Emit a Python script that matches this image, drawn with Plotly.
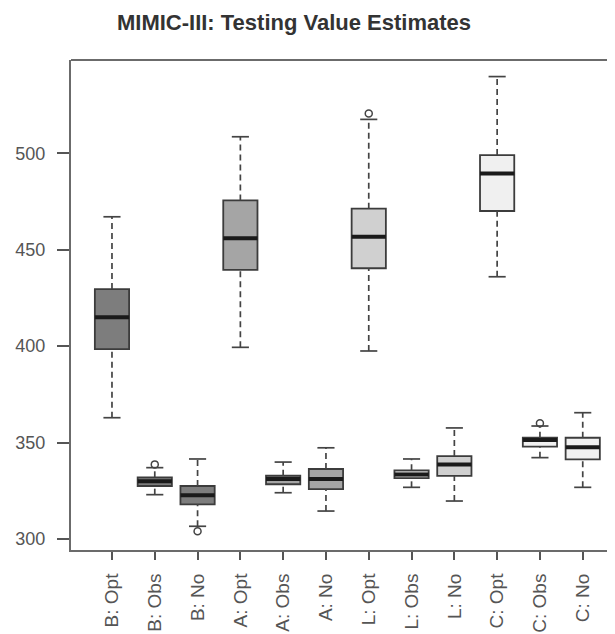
import plotly.graph_objects as go

labels = ["B: Opt", "B: Obs", "B: No", "A: Opt", "A: Obs", "A: No",
          "L: Opt", "L: Obs", "L: No", "C: Opt", "C: Obs", "C: No"]
lower_whisker = [362.9, 323.0, 306.6, 399.4, 324.0, 314.5, 397.5, 326.8, 319.7, 436.0, 342.2, 326.8]
q1 =            [398.5, 327.5, 318.0, 439.6, 328.4, 325.9, 440.4, 331.6, 332.7, 470.1, 347.9, 341.3]
median =        [415.0, 329.9, 322.7, 455.9, 331.1, 331.1, 456.8, 333.5, 338.7, 489.6, 351.3, 347.6]
q3 =            [429.6, 332.0, 327.5, 475.6, 332.8, 336.3, 471.3, 335.6, 343.0, 499.1, 352.5, 352.5]
upper_whisker = [467.1, 337.0, 341.5, 508.6, 339.9, 347.3, 517.6, 341.5, 357.6, 539.8, 358.6, 365.5]
outlier_pos = [2, 3, 7, 11]
outlier_val = [338.7, 304.0, 520.7, 360.0]
fills = ["#7d7d7d", "#7d7d7d", "#7d7d7d", "#a5a5a5", "#a5a5a5", "#a5a5a5",
         "#d0d0d0", "#d0d0d0", "#d0d0d0", "#f0f0f0", "#f0f0f0", "#f0f0f0"]
y_ticks = [300, 350, 400, 450, 500]

BOXW = 0.8
CAPW = 0.2
EDGE = "#3c3c3c"
FONT = "Liberation Sans, Arial, sans-serif"

fig = go.Figure()
positions = list(range(1, len(labels) + 1))

for i, pos in enumerate(positions):
    # dashed whiskers
    fig.add_trace(go.Scatter(
        x=[pos, pos, None, pos, pos],
        y=[lower_whisker[i], q1[i], None, q3[i], upper_whisker[i]],
        mode="lines", line=dict(color="#444444", width=1.7, dash="6px,4px"),
        hoverinfo="skip", showlegend=False))
    # caps
    fig.add_trace(go.Scatter(
        x=[pos - CAPW, pos + CAPW, None, pos - CAPW, pos + CAPW],
        y=[lower_whisker[i], lower_whisker[i], None, upper_whisker[i], upper_whisker[i]],
        mode="lines", line=dict(color="#444444", width=1.7),
        hoverinfo="skip", showlegend=False))
    # box body
    fig.add_trace(go.Box(
        x=[pos], q1=[q1[i]], median=[median[i]], q3=[q3[i]],
        lowerfence=[q1[i]], upperfence=[q3[i]],
        width=BOXW, whiskerwidth=0, fillcolor=fills[i],
        line=dict(color=EDGE, width=1.8), boxpoints=False,
        hoverinfo="skip", showlegend=False))
    # thick median
    fig.add_trace(go.Scatter(
        x=[pos - BOXW / 2, pos + BOXW / 2], y=[median[i], median[i]],
        mode="lines", line=dict(color="#1a1a1a", width=4),
        hoverinfo="skip", showlegend=False))

fig.add_trace(go.Scatter(
    x=outlier_pos, y=outlier_val, mode="markers",
    marker=dict(symbol="circle-open", size=7, color="#444444", line=dict(width=1.5)),
    hoverinfo="skip", showlegend=False))

fig.update_layout(
    width=640, height=626,
    margin=dict(l=63, r=0, t=52, b=84, autoexpand=False),
    paper_bgcolor="white", plot_bgcolor="white",
    title=dict(text="<b>MIMIC-III: Testing Value Estimates</b>",
               x=286 / 640, xref="container", xanchor="center",
               y=1 - 14 / 626, yref="container", yanchor="middle",
               font=dict(family=FONT, size=22, color="#333333")),
    xaxis=dict(range=[0.0425, 13.525], tickmode="array", tickvals=positions,
               ticktext=labels, tickangle=-90, showgrid=False, zeroline=False,
               automargin=False,
               showline=True, linecolor="#6b6b6b", linewidth=2,
               ticks="outside", ticklen=8, tickcolor="#555555", tickwidth=1.5,
               ticklabelstandoff=6,
               tickfont=dict(family=FONT, size=19, color="#555555")),
    yaxis=dict(range=[294.3, 548.4], tickmode="array", tickvals=y_ticks,
               showgrid=False, zeroline=False, automargin=False,
               showline=True, linecolor="#6b6b6b", linewidth=2,
               ticks="outside", ticklen=12, tickcolor="#555555", tickwidth=1.5,
               ticklabelstandoff=8,
               tickfont=dict(family=FONT, size=18, color="#555555")),
    shapes=[dict(type="line", xref="paper", yref="paper", x0=0, x1=1, y0=1, y1=1,
                 line=dict(color="#6b6b6b", width=2))],
)

fig.write_html("out.html")
